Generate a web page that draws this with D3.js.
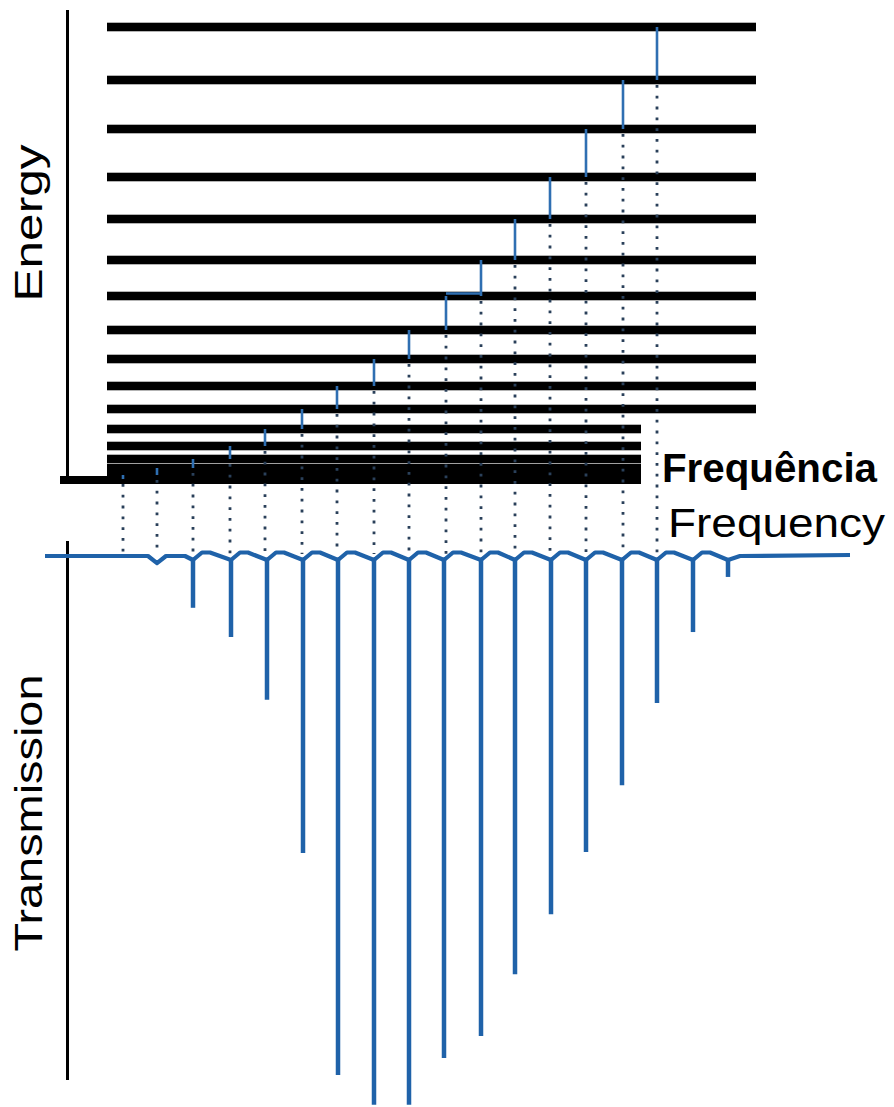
<!DOCTYPE html>
<html>
<head>
<meta charset="utf-8">
<script src="https://cdn.jsdelivr.net/npm/d3@7"></script>
<style>
  html, body { margin: 0; padding: 0; background: #fff; }
  svg { display: block; }
  text { font-family: "Liberation Sans", Arial, sans-serif; }
</style>
</head>
<body>
<div id="chart"></div>
<script>
// ---------------- DATA ----------------
// Energy levels (arbitrary energy units), from ground upward
const levelEnergy = [1, 5, 12, 21, 34, 51, 71, 94, 121, 150, 184, 220, 261, 303, 351, 400, 453];
// Frequency extent reached by each level line (arbitrary frequency units)
const levelReach = [641, 641, 641, 641, 641, 641, 756, 756, 756, 756, 756, 756, 756, 756, 756, 756, 756];
const levelStart = 107;
// Transition i connects level i -> level i+1 at this frequency
const transitionFreq = [123, 157, 193, 230, 265, 302, 337, 374, 409, 446, 481, 515, 550, 586, 623, 657];
// Absorption spectrum: line frequencies and minimum transmission (0..1)
const spikeFreq = [157, 193, 231, 267, 303, 338, 374, 409, 444, 481, 515, 551, 586, 622, 657, 693, 728];
const spikeT = [0.987, 0.906, 0.853, 0.739, 0.461, 0.058, 0.004, 0.004, 0.089, 0.129, 0.241, 0.350, 0.463, 0.584, 0.733, 0.862, 0.962];
const spectrumRange = [45, 850];
// Labels
const labels = { energy: "Energy", transmission: "Transmission", freqPt: "Frequência", freqEn: "Frequency" };

// ---------------- SETUP ----------------
const W = 894, H = 1107;
const svg = d3.select("#chart").append("svg").attr("width", W).attr("height", H);
svg.append("rect").attr("width", W).attr("height", H).attr("fill", "#fff");

const x = d3.scaleLinear().domain([0, 894]).range([0, 894]);
const yE = d3.scaleLinear().domain([0, 460]).range([480, 20]);
const yT = d3.scaleLinear().domain([0, 1]).range([1107, 556]);

const BLUE = "#1f62a9";
const BLUE2 = "#2f6fb2";
const DOT = "#2a405a";

// ---------------- ENERGY PANEL ----------------
svg.append("line").attr("x1", 67.5).attr("x2", 67.5).attr("y1", 10).attr("y2", yE(0) + 4)
  .attr("stroke", "#000").attr("stroke-width", 3);

const lv = svg.append("g");
levelEnergy.forEach((e, i) => {
  lv.append("line").attr("x1", x(levelStart)).attr("x2", x(levelReach[i]))
    .attr("y1", yE(e)).attr("y2", yE(e)).attr("stroke", "#9a9a9a").attr("stroke-width", 9.5);
});
levelEnergy.forEach((e, i) => {
  lv.append("line").attr("x1", x(levelStart)).attr("x2", x(levelReach[i]))
    .attr("y1", yE(e)).attr("y2", yE(e)).attr("stroke", "#000").attr("stroke-width", 8);
});
// horizontal axis (frequency) on top of the ground block
svg.append("line").attr("x1", 60).attr("x2", x(levelReach[0])).attr("y1", yE(0)).attr("y2", yE(0))
  .attr("stroke", "#000").attr("stroke-width", 8);

// dotted projections from each transition down to the spectrum baseline
const dots = svg.append("g");
transitionFreq.forEach((f, i) => {
  dots.append("line").attr("x1", x(f)).attr("x2", x(f))
    .attr("y1", yE(levelEnergy[i]) + 5).attr("y2", yT(1) - 2)
    .attr("stroke", DOT).attr("stroke-width", 2.8).attr("stroke-dasharray", "2.8 8");
});

// transition lines
const tr = svg.append("g");
transitionFreq.forEach((f, i) => {
  tr.append("line").attr("x1", x(f)).attr("x2", x(f))
    .attr("y1", yE(levelEnergy[i])).attr("y2", yE(levelEnergy[i + 1]))
    .attr("stroke", BLUE2).attr("stroke-width", 2.6);
});
tr.append("line").attr("x1", x(transitionFreq[9])).attr("x2", x(transitionFreq[10]))
  .attr("y1", yE(levelEnergy[10]) - 2.5).attr("y2", yE(levelEnergy[10]) - 2.5)
  .attr("stroke", BLUE2).attr("stroke-width", 2.6);

// ---------------- TRANSMISSION PANEL ----------------
svg.append("line").attr("x1", 67.5).attr("x2", 67.5).attr("y1", 541).attr("y2", 1080)
  .attr("stroke", "#000").attr("stroke-width", 3);

const yB = yT(1);
const pts = [[x(spectrumRange[0]), yB]];
spikeFreq.forEach((f, i) => {
  const sx = x(f);
  if (i === 0) {
    pts.push([sx - 9, yB], [sx, yT(spikeT[i])], [sx + 9, yB], [x(spikeFreq[1]) - 8, yB]);
    return;
  }
  pts.push([sx, yB + 4]);
  if (i < spikeFreq.length - 1) {
    pts.push([sx + 9, yB - 3.5], [sx + 17, yB - 3.5]);
  } else {
    pts.push([sx + 12, yB]);
  }
});
pts.push([x(spectrumRange[1]), yB - 1]);

svg.append("path").attr("d", d3.line()(pts)).attr("fill", "none")
  .attr("stroke", BLUE).attr("stroke-width", 4.2).attr("stroke-linejoin", "round").attr("stroke-linecap", "butt");

spikeFreq.forEach((f, i) => {
  if (i === 0) return;
  svg.append("line").attr("x1", x(f)).attr("x2", x(f)).attr("y1", yB + 3).attr("y2", yT(spikeT[i]))
    .attr("stroke", BLUE).attr("stroke-width", 4.5);
});

// ---------------- LABELS ----------------
svg.append("text").attr("transform", "translate(42,223) rotate(-90)")
  .attr("text-anchor", "middle").attr("font-size", 38)
  .attr("textLength", 157).attr("lengthAdjust", "spacingAndGlyphs")
  .text(labels.energy);
svg.append("text").attr("transform", "translate(42,813) rotate(-90)")
  .attr("text-anchor", "middle").attr("font-size", 38)
  .attr("textLength", 277).attr("lengthAdjust", "spacingAndGlyphs")
  .text(labels.transmission);
svg.append("text").attr("x", 662).attr("y", 482).attr("font-size", 40).attr("font-weight", "bold")
  .attr("textLength", 215).attr("lengthAdjust", "spacingAndGlyphs")
  .text(labels.freqPt);
svg.append("text").attr("x", 668).attr("y", 537).attr("font-size", 40)
  .attr("textLength", 217).attr("lengthAdjust", "spacingAndGlyphs")
  .text(labels.freqEn);
</script>
</body>
</html>
